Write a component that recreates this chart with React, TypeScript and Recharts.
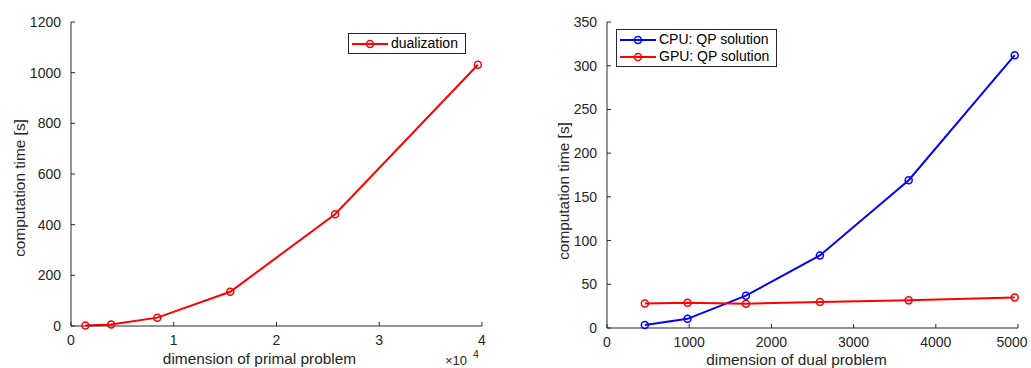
import { CartesianGrid, Customized, Label, Legend, Line, LineChart, XAxis, YAxis } from 'recharts';

const FONT = '"Liberation Sans", Arial, Helvetica, sans-serif';
const AXIS = '#262626';

// left panel: dualization time vs primal dimension
const primalDim = [1400, 3900, 8400, 15500, 25700, 39600];
const dualizationTime = [2, 6, 33, 135, 441, 1031];
const primalTicksX = [0, 10000, 20000, 30000, 40000];
const primalTicksY = [0, 200, 400, 600, 800, 1000, 1200];

// right panel: QP solution time vs dual dimension
const dualDim = [460, 980, 1690, 2590, 3670, 4960];
const cpuQpTime = [3.5, 10.5, 37, 83, 169, 312];
const gpuQpTime = [28, 29, 27.8, 29.7, 31.6, 35];
const dualTicksX = [0, 1000, 2000, 3000, 4000, 5000];
const dualTicksY = [0, 50, 100, 150, 200, 250, 300, 350];

const leftRows = primalDim.map((x, i) => ({ x, t: dualizationTime[i] }));
const rightRows = dualDim.map((x, i) => ({ x, cpu: cpuQpTime[i], gpu: gpuQpTime[i] }));

const tickStyle = { fontSize: 14, fill: AXIS, fontFamily: FONT };

function Marker({ color }: { color: string }) {
  return (
    <svg width={36} height={12} style={{ display: 'block' }}>
      <line x1={0} y1={6} x2={36} y2={6} stroke={color} strokeWidth={2} />
      <circle cx={18} cy={6} r={3.5} stroke={color} strokeWidth={1.5} fill="none" />
    </svg>
  );
}

function BoxLegend({ items }: { items: { name: string; color: string }[] }) {
  return (
    <div
      style={{
        border: `1px solid ${AXIS}`,
        background: '#fff',
        padding: '1px 7px 1px 3px',
        fontFamily: FONT,
        fontSize: 14,
        color: '#000',
        lineHeight: '17px',
      }}
    >
      {items.map((it) => (
        <div key={it.name} style={{ display: 'flex', alignItems: 'center', whiteSpace: 'nowrap' }}>
          <Marker color={it.color} />
          <span style={{ marginLeft: 3 }}>{it.name}</span>
        </div>
      ))}
    </div>
  );
}

function axisLabel(text: string, dx: number, dy: number, vertical: boolean) {
  return (props: any) => {
    const vb = props.viewBox || {};
    const cx = vertical ? vb.x + dx : vb.x + vb.width / 2 + dx;
    const cy = vertical ? vb.y + vb.height / 2 + dy : vb.y + dy;
    return (
      <text
        x={cx}
        y={cy}
        textAnchor="middle"
        dominantBaseline="central"
        transform={vertical ? `rotate(-90 ${cx} ${cy})` : undefined}
        style={{ fontSize: 15.4, fill: AXIS, fontFamily: FONT }}
      >
        {text}
      </text>
    );
  };
}

// keeps the last label inside the page, as in the reference
function DualTick(props: any) {
  const { x, y, payload } = props;
  const last = payload.value === dualTicksX[dualTicksX.length - 1];
  return (
    <text x={last ? x - 3 : x} y={y} dy="0.71em" textAnchor="middle" style={tickStyle}>
      {payload.value}
    </text>
  );
}

function Exponent() {
  return (
    <text style={{ fontFamily: FONT, fill: AXIS }}>
      <tspan x={445} y={365} style={{ fontSize: 13 }}>
        ×10
      </tspan>
      <tspan x={473} y={358} style={{ fontSize: 10.5 }}>
        4
      </tspan>
    </text>
  );
}

export default function App() {
  return (
    <div style={{ position: 'absolute', left: 0, top: 0, width: 1031, height: 368, background: '#fff' }}>
      <div style={{ position: 'absolute', left: 0, top: 0 }}>
        <LineChart width={515} height={368} data={leftRows} margin={{ top: 22, right: 33, left: 0, bottom: 0 }}>
          <CartesianGrid stroke="none" />
          <XAxis
            type="number"
            dataKey="x"
            domain={[0, 40000]}
            ticks={primalTicksX}
            tickFormatter={(v) => `${v / 10000}`}
            height={42}
            tick={tickStyle}
            tickSize={-4}
            tickMargin={13}
            axisLine={{ stroke: AXIS }}
            tickLine={{ stroke: AXIS }}
          >
            <Label content={axisLabel('dimension of primal problem', -17, 32, false)} />
          </XAxis>
          <YAxis
            type="number"
            domain={[0, 1200]}
            ticks={primalTicksY}
            width={71}
            tick={tickStyle}
            tickSize={-4}
            tickMargin={14}
            axisLine={{ stroke: AXIS }}
            tickLine={{ stroke: AXIS }}
          >
            <Label content={axisLabel('computation time [s]', 19, 14, true)} />
          </YAxis>
          <Legend
            layout="vertical"
            align="center"
            verticalAlign="middle"
            wrapperStyle={{ left: 348, top: 33, width: 'auto' }}
            content={() => <BoxLegend items={[{ name: 'dualization', color: '#ff0000' }]} />}
          />
          <Line
            type="linear"
            dataKey="t"
            name="dualization"
            stroke="#ff0000"
            strokeWidth={2}
            dot={{ r: 3.5, stroke: '#ff0000', strokeWidth: 1.5, fill: 'none' }}
            isAnimationActive={false}
          />
          <Customized component={Exponent} />
        </LineChart>
      </div>
      <div style={{ position: 'absolute', left: 515, top: 0 }}>
        <LineChart width={516} height={368} data={rightRows} margin={{ top: 22, right: 13, left: 0, bottom: 0 }}>
          <XAxis
            type="number"
            dataKey="x"
            domain={[0, 5000]}
            ticks={dualTicksX}
            height={40}
            tick={<DualTick />}
            tickSize={-4}
            tickMargin={13}
            axisLine={{ stroke: AXIS }}
            tickLine={{ stroke: AXIS }}
          >
            <Label content={axisLabel('dimension of dual problem', -16, 31, false)} />
          </XAxis>
          <YAxis
            type="number"
            domain={[0, 350]}
            ticks={dualTicksY}
            width={92}
            tick={tickStyle}
            tickSize={-4}
            tickMargin={14}
            axisLine={{ stroke: AXIS }}
            tickLine={{ stroke: AXIS }}
          >
            <Label content={axisLabel('computation time [s]', 48, 16, true)} />
          </YAxis>
          <Legend
            layout="vertical"
            align="center"
            verticalAlign="middle"
            wrapperStyle={{ left: 101, top: 29, width: 'auto' }}
            content={() => (
              <BoxLegend
                items={[
                  { name: 'CPU: QP solution', color: '#0000ff' },
                  { name: 'GPU: QP solution', color: '#ff0000' },
                ]}
              />
            )}
          />
          <Line
            type="linear"
            dataKey="cpu"
            name="CPU: QP solution"
            stroke="#0000ff"
            strokeWidth={2}
            dot={{ r: 3.5, stroke: '#0000ff', strokeWidth: 1.5, fill: 'none' }}
            isAnimationActive={false}
          />
          <Line
            type="linear"
            dataKey="gpu"
            name="GPU: QP solution"
            stroke="#ff0000"
            strokeWidth={2}
            dot={{ r: 3.5, stroke: '#ff0000', strokeWidth: 1.5, fill: 'none' }}
            isAnimationActive={false}
          />
        </LineChart>
      </div>
    </div>
  );
}
